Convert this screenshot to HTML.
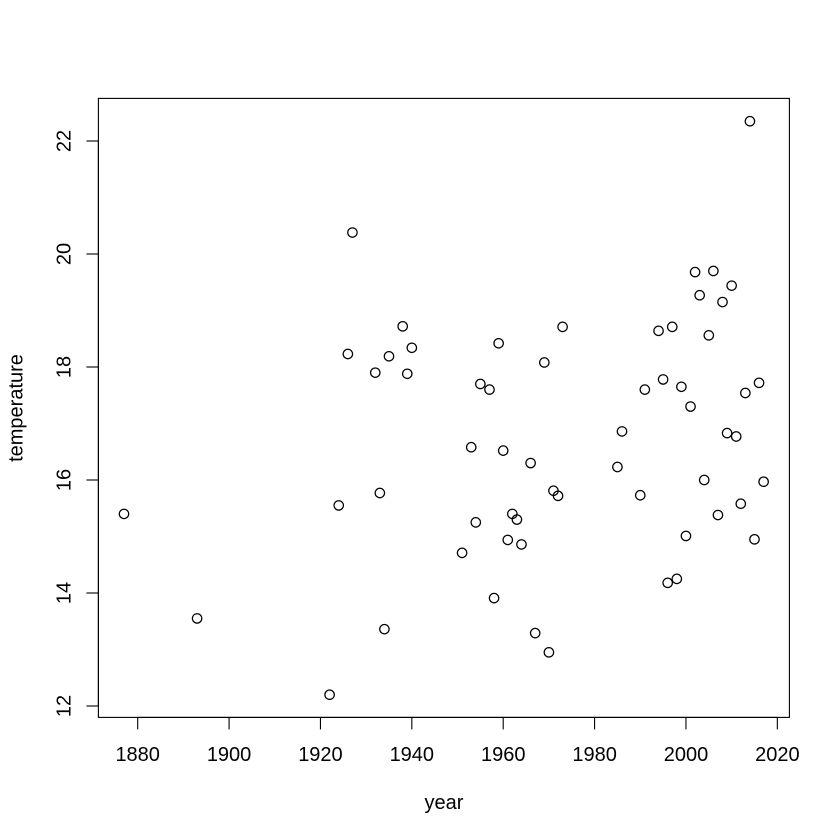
<!DOCTYPE html>
<html>
<head>
<meta charset="utf-8">
<title>Temperature by year</title>
<style>
html,body{margin:0;padding:0;background:#fff;}
svg{display:block;}
text{font-family:"Liberation Sans",sans-serif;font-size:20px;fill:#000;}
</style>
</head>
<body>
<svg id="chart" width="840" height="840" viewBox="0 0 840 840"></svg>
<script>
const years = [1877,1893,1922,1924,1926,1927,1932,1933,1934,1935,1938,1939,1940,1951,1953,1954,1955,1957,1958,1959,1960,1961,1962,1963,1964,1966,1967,1969,1970,1971,1972,1973,1985,1986,1990,1991,1994,1995,1996,1997,1998,1999,2000,2001,2002,2003,2004,2005,2006,2007,2008,2009,2010,2011,2012,2013,2014,2015,2016,2017];
const temperatures = [15.40,13.55,12.20,15.55,18.23,20.38,17.90,15.77,13.36,18.19,18.72,17.88,18.34,14.71,16.58,15.25,17.70,17.60,13.91,18.42,16.52,14.94,15.40,15.30,14.86,16.30,13.29,18.08,12.95,15.81,15.72,18.71,16.23,16.86,15.73,17.60,18.64,17.78,14.18,18.71,14.25,17.65,15.01,17.30,19.68,19.27,16.00,18.56,19.70,15.38,19.15,16.83,19.44,16.77,15.58,17.54,22.35,14.95,17.72,15.97];
const xTicks = [1880,1900,1920,1940,1960,1980,2000,2020];
const yTicks = [12,14,16,18,20,22];
const xAxisTitle = "year";
const yAxisTitle = "temperature";

const svg = document.getElementById('chart');
const NS = 'http://www.w3.org/2000/svg';
function xScale(v){ return 137.7 + (v - 1880) * 4.5688; }
function yScale(v){ return 706 - (v - 12) * 56.5; }
const box = {left:98.4, right:789.4, top:98.4, bottom:717.4};

function make(tag, attrs){
  const el = document.createElementNS(NS, tag);
  for (const k in attrs) el.setAttribute(k, attrs[k]);
  return el;
}
const stroke = {stroke:'#000','stroke-width':1.1,fill:'none'};

const frame = make('rect', Object.assign({x:box.left,y:box.top,width:box.right-box.left,height:box.bottom-box.top}, stroke));


svg.appendChild(frame);

const xAxis = make('line', Object.assign({x1:xScale(xTicks[0]),x2:xScale(xTicks[xTicks.length-1]),y1:box.bottom,y2:box.bottom}, stroke));


svg.appendChild(xAxis);

const yAxis = make('line', Object.assign({x1:box.left,x2:box.left,y1:yScale(yTicks[0]),y2:yScale(yTicks[yTicks.length-1])}, stroke));


svg.appendChild(yAxis);

xTicks.forEach(function(t){
  const px = xScale(t);
  const tick = make('line', Object.assign({x1:px,x2:px,y1:box.bottom,y2:box.bottom+12}, stroke));
  
  
  svg.appendChild(tick);
  const label = make('text', {x:px,y:761,'text-anchor':'middle'});
  
  
  label.textContent = t;
  svg.appendChild(label);
});

yTicks.forEach(function(t){
  const py = yScale(t);
  const tick = make('line', Object.assign({x1:box.left-12,x2:box.left,y1:py,y2:py}, stroke));
  
  
  svg.appendChild(tick);
  const label = make('text', {x:0,y:0,'text-anchor':'middle',transform:'translate(70.5 '+py+') rotate(-90)'});
  
  
  label.textContent = t;
  svg.appendChild(label);
});

years.forEach(function(y, i){
  const pt = make('circle', {cx:xScale(y),cy:yScale(temperatures[i]),r:4.7,fill:'none',stroke:'#000','stroke-width':1.25});
  
  
  svg.appendChild(pt);
});

const xTitle = make('text', {x:444,y:809,'text-anchor':'middle'});


xTitle.textContent = xAxisTitle;
svg.appendChild(xTitle);

const yTitle = make('text', {x:0,y:0,'text-anchor':'middle',transform:'translate(22.7 408) rotate(-90)'});


yTitle.textContent = yAxisTitle;
svg.appendChild(yTitle);
</script>
</body>
</html>
